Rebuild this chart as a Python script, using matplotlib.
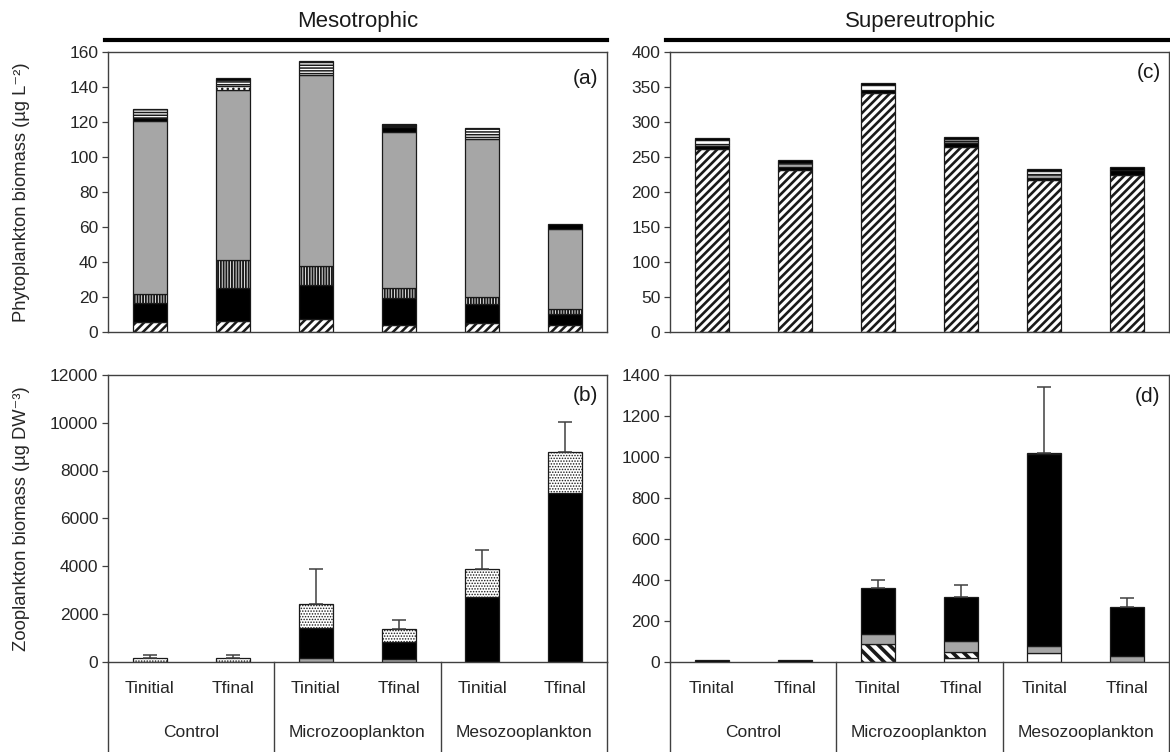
import numpy as np
import matplotlib
matplotlib.use("Agg")
import matplotlib.pyplot as plt

plt.rcParams['font.family'] = ['Liberation Sans', 'DejaVu Sans']

# ---------------- data ----------------
treat_labels_b = ["Tinitial", "Tfinal", "Tinitial", "Tfinal", "Tinitial", "Tfinal"]
treat_labels_d = ["Tinital", "Tfinal", "Tinital", "Tfinal", "Tinital", "Tfinal"]
groups = ["Control", "Microzooplankton", "Mesozooplankton"]

# Panel (a): Mesotrophic phytoplankton (µg L-2), stacked bottom -> top
a_diag = [5.5, 6.0, 7.5, 4.0, 5.0, 4.0]
a_black = [11.0, 19.0, 19.5, 15.5, 11.0, 6.5]
a_vert = [5.0, 16.0, 10.5, 5.5, 4.0, 2.5]
a_gray = [99.0, 97.0, 109.5, 89.0, 90.0, 46.0]
a_dot = [0.0, 2.5, 0.0, 0.0, 0.0, 0.0]
a_black2 = [2.0, 0.0, 0.0, 3.0, 0.0, 0.0]
a_horiz = [5.0, 3.5, 8.0, 1.0, 6.5, 0.0]
a_top = [0.0, 1.0, 0.0, 1.0, 0.0, 2.5]

# Panel (c): Supereutrophic phytoplankton
c_diag = [261, 232, 341, 264, 217, 224]
c_black = [5, 4, 5, 6, 3, 7]
c_gray = [2, 6, 0, 5, 6, 0]
c_white = [6, 0, 7, 0, 4, 1]
c_top = [3, 3, 3, 4, 3, 3]

# Panel (b): Mesotrophic zooplankton (µg DW-3)
b_gray = [0, 0, 150, 100, 0, 0]
b_black = [0, 0, 1260, 710, 2700, 7070]
b_dot = [160, 160, 1010, 550, 1190, 1710]
b_err = [110, 110, 1470, 360, 790, 1250]

# Panel (d): Supereutrophic zooplankton
d_white = [0, 0, 0, 15, 40, 0]
d_diag = [0, 0, 86, 31, 0, 0]
d_gray = [0, 0, 49, 54, 38, 28]
d_black = [5, 5, 224, 215, 938, 238]
d_wtop = [0, 0, 0, 0, 5, 0]
d_err = [0, 0, 37, 60, 319, 44]

# ---------------- figure ----------------
W, H = 1170, 752
fig = plt.figure(figsize=(W / 100, H / 100), dpi=100)

def fx(px):
    return px / W

def fy(py):
    return 1 - py / H

left1, right1 = 108, 607
left2, right2 = 670, 1169
top_a, bot_a = 52, 332
top_b, bot_b = 375, 661.5

ax_a = fig.add_axes([fx(left1), fy(bot_a), fx(right1 - left1), (bot_a - top_a) / H])
ax_c = fig.add_axes([fx(left2), fy(bot_a), fx(right2 - left2), (bot_a - top_a) / H])
ax_b = fig.add_axes([fx(left1), fy(bot_b), fx(right1 - left1), (bot_b - top_b) / H])
ax_d = fig.add_axes([fx(left2), fy(bot_b), fx(right2 - left2), (bot_b - top_b) / H])

x = np.arange(6)
WIDTH = 0.41
GRAY = '#A6A6A6'
EDGE = '#1a1a1a'
SPINE = '#404040'

def stack(ax, layers):
    bottom = np.zeros(6)
    for vals, fc, hatch, hlw in layers:
        v = np.asarray(vals, dtype=float)
        m = v > 0
        if m.any():
            bars = ax.bar(x[m], v[m], WIDTH, bottom=bottom[m], color=fc,
                          edgecolor=EDGE, linewidth=0.9, hatch=hatch, zorder=2)
            for p in bars:
                if hasattr(p, 'set_hatch_linewidth'):
                    p.set_hatch_linewidth(hlw)
        bottom = bottom + v
    return bottom

plt.rcParams['hatch.linewidth'] = 1.6

tot_a = stack(ax_a, [
    (a_diag, 'white', '////', 1.8),
    (a_black, 'black', None, 1),
    (a_vert, 'white', '||||||', 1.4),
    (a_gray, GRAY, None, 1),
    (a_dot, 'white', '...', 1.0),
    (a_black2, 'black', None, 1),
    (a_horiz, 'white', '------', 1.1),
    (a_top, 'black', None, 1),
])
tot_c = stack(ax_c, [
    (c_diag, 'white', '////', 1.9),
    (c_black, 'black', None, 1),
    (c_gray, GRAY, '---', 1.0),
    (c_white, 'white', None, 1),
    (c_top, 'black', None, 1),
])
tot_b = stack(ax_b, [
    (b_gray, GRAY, None, 1),
    (b_black, 'black', None, 1),
    (b_dot, 'white', '......', 0.7),
])
tot_d = stack(ax_d, [
    (d_white, 'white', None, 1),
    (d_diag, 'white', '\\\\\\', 2.6),
    (d_gray, GRAY, None, 1),
    (d_black, 'black', None, 1),
    (d_wtop, 'white', None, 1),
])

for ax, tot, err in [(ax_b, tot_b, b_err), (ax_d, tot_d, d_err)]:
    e = np.asarray(err, dtype=float)
    m = e > 0
    ax.errorbar(x[m], tot[m], yerr=[np.zeros(m.sum()), e[m]], fmt='none',
                ecolor=SPINE, elinewidth=1.1, capsize=5, capthick=1.1, zorder=3)

# ---------------- axes styling ----------------
limits = {ax_a: (160, 20), ax_c: (400, 50), ax_b: (12000, 2000), ax_d: (1400, 200)}
for ax, (ymax, step) in limits.items():
    ax.set_xlim(-0.5, 5.5)
    ax.set_ylim(0, ymax)
    ax.set_yticks(np.arange(0, ymax + step / 2, step))
    ax.set_xticks([])
    ax.tick_params(axis='y', direction='out', length=4, width=0.9, color=SPINE,
                   labelsize=12.5, labelcolor='#262626', pad=3)
    for s in ax.spines.values():
        s.set_color(SPINE)
        s.set_linewidth(1.0)

for ax, lab, yy in [(ax_a, '(a)', 0.905), (ax_c, '(c)', 0.925), (ax_b, '(b)', 0.93), (ax_d, '(d)', 0.925)]:
    ax.text(0.983, yy, lab, transform=ax.transAxes, ha='right', va='center',
            fontsize=15, color='#1a1a1a')

# category labels and separators below bottom panels
for ax, labs in [(ax_b, treat_labels_b), (ax_d, treat_labels_d)]:
    for xi, lab in zip(x, labs):
        ax.annotate(lab, xy=(xi, 0), xycoords=('data', 'axes fraction'),
                    xytext=(0, -27), textcoords='offset pixels',
                    ha='center', va='center', fontsize=12.5, color='#262626',
                    annotation_clip=False)
    for gi, g in enumerate(groups):
        ax.annotate(g, xy=(2 * gi + 0.5, 0), xycoords=('data', 'axes fraction'),
                    xytext=(0, -71), textcoords='offset pixels',
                    ha='center', va='center', fontsize=12.5, color='#262626',
                    annotation_clip=False)
    for xs in [-0.5, 1.5, 3.5, 5.5]:
        ax.plot([xs, xs], [0, -0.33], transform=ax.get_xaxis_transform(),
                color=SPINE, lw=1.0, clip_on=False)

# y labels
fig.text(0.018, fy((top_a + bot_a) / 2), 'Phytoplankton biomass (µg L⁻²)',
         rotation=90, ha='center', va='center', fontsize=13.2, color='#262626')
fig.text(0.018, fy((top_b + bot_b) / 2), 'Zooplankton biomass (µg DW⁻³)',
         rotation=90, ha='center', va='center', fontsize=13.2, color='#262626')

# header titles with heavy rule
for l, r, t in [(105, 607, 'Mesotrophic'), (666, 1170, 'Supereutrophic')]:
    fig.add_artist(plt.Line2D([fx(l), fx(r)], [fy(40), fy(40)], color='black', lw=3.0))
    fig.text(fx((l + r) / 2 + 2), fy(22), t, ha='center', va='center',
             fontsize=16, color='#1a1a1a')

fig.savefig('out.png', dpi=100, facecolor='white')
